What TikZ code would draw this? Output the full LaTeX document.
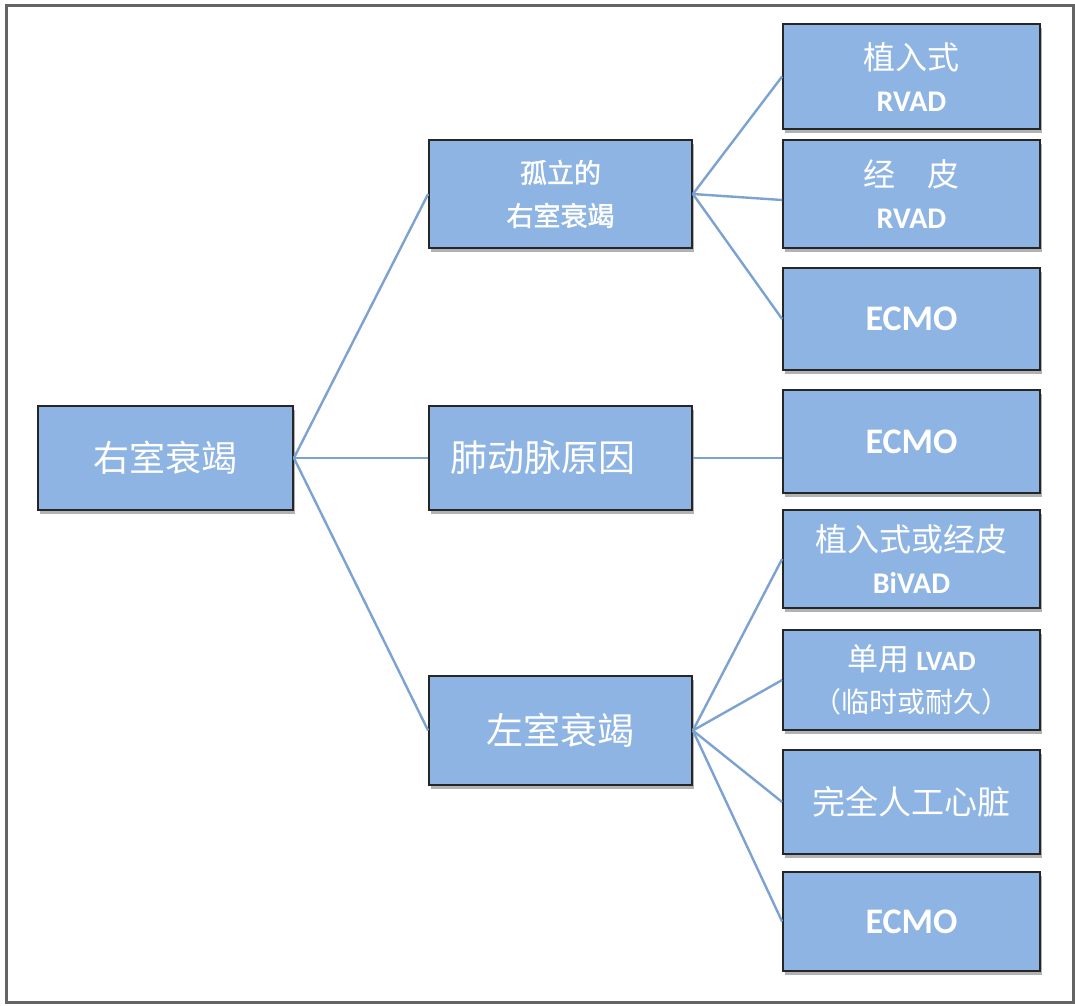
\documentclass[tikz,border=0pt]{standalone}
\usepackage{fontspec}
\newfontfamily\cjk{Noto Sans CJK SC}
\newfontfamily\cjkb{Noto Sans CJK SC}[FakeBold=1.5]
\newfontfamily\lat{Carlito}[BoldFont={Carlito Bold}]
\usetikzlibrary{shadows}
\definecolor{boxfill}{RGB}{142,180,227}
\definecolor{linkcol}{RGB}{124,162,210}
\definecolor{framecol}{RGB}{100,100,100}
\tikzset{
  box/.style={draw=black!85, line width=1.8pt, fill=boxfill, rectangle, inner sep=0pt,
    text=white, align=center,
    drop shadow={shadow xshift=2pt, shadow yshift=-4pt, opacity=0.3, fill=black}},
  link/.style={draw=linkcol, line width=2.4pt},
}
\newcommand{\zh}[1]{\fontsize{#1}{42}\cjk\selectfont}
\newcommand{\zhb}[1]{\fontsize{#1}{43}\cjkb\selectfont}
\newcommand{\en}[1]{\fontsize{#1}{42}\lat\bfseries\selectfont}
\begin{document}
\begin{tikzpicture}[x=1pt,y=-1pt]
\useasboundingbox (0,0) rectangle (1075,1005);
\draw[framecol, line width=3pt] (6,5) rectangle (1073,1002);

% left and middle
\node[box, minimum width=255pt, minimum height=104pt, font=\zh{36}] (root) at (165.5,458) {右室衰竭};
\node[box, minimum width=263pt, minimum height=108pt, font=\zhb{27}] (iso) at (560.5,194) {孤立的\\右室衰竭};
\node[box, minimum width=263pt, minimum height=104pt, font=\zh{37}] (pul) at (560.5,458) {肺动脉原因\hspace*{36pt}};
\node[box, minimum width=263pt, minimum height=109pt, font=\zh{37}] (lv) at (560.5,730.5) {左室衰竭};

% right column
\node[box, minimum width=257pt, minimum height=105pt, font=\zh{32}] (r1) at (911.5,76.5) {植入式\\{\en{30}RVAD}};
\node[box, minimum width=257pt, minimum height=108pt, font=\zh{32}] (r2) at (911.5,194) {经\quad 皮\\{\en{30}RVAD}};
\node[box, minimum width=257pt, minimum height=102pt, font=\en{36}] (r3) at (911.5,319) {ECMO};
\node[box, minimum width=257pt, minimum height=103pt, font=\en{36}] (r4) at (911.5,441.5) {ECMO};
\node[box, minimum width=257pt, minimum height=98pt, font=\zh{32}] (r5) at (911.5,559) {植入式或经皮\\{\en{30}BiVAD}};
\node[box, minimum width=257pt, minimum height=100pt, font=\zh{31}] (r6) at (911.5,680) {单用 {\en{28}LVAD}\\{\zh{28}（临时或耐久）}};
\node[box, minimum width=257pt, minimum height=104pt, font=\zh{33}] (r7) at (911.5,802) {完全人工心脏};
\node[box, minimum width=257pt, minimum height=99pt, font=\en{36}] (r8) at (911.5,921.5) {ECMO};

% connectors
\draw[link] (root.east) -- (iso.west);
\draw[link] (root.east) -- (pul.west);
\draw[link] (root.east) -- (lv.west);
\draw[link] (iso.east) -- (r1.west);
\draw[link] (iso.east) -- ([yshift=-6pt]r2.west);
\draw[link] (iso.east) -- (r3.west);
\draw[link] (pul.east) -- (pul.east -| r4.west);
\draw[link] (lv.east) -- (r5.west);
\draw[link] (lv.east) -- (r6.west);
\draw[link] (lv.east) -- (r7.west);
\draw[link] (lv.east) -- (r8.west);
\end{tikzpicture}
\end{document}
